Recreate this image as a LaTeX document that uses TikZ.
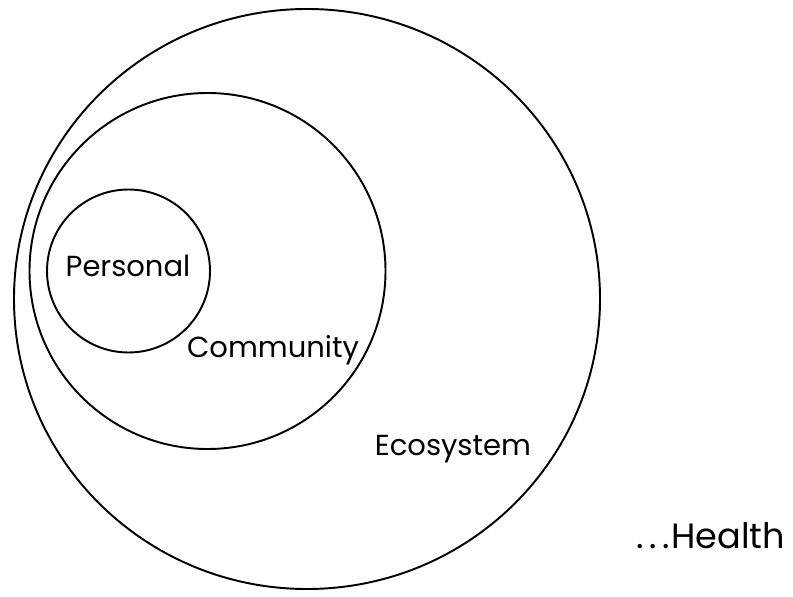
\documentclass[tikz,border=0pt]{standalone}
\usepackage{fontspec}
\setmainfont{Poppins}
\usepackage{tikz}

\begin{document}
\begin{tikzpicture}
		\useasboundingbox (0,0) rectangle (15.86,11.92);
		\tikzset{lbl/.style={font=\fontsize{16.5}{19}\selectfont,inner sep=0pt,anchor=base}}
		
		\draw[line width=1.1pt] (6.14,5.94) ellipse (5.86 and 5.8);
		\draw[line width=1.1pt] (4.15,6.5) circle(3.56);
		\draw[line width=1.1pt] (2.57,6.5) circle(1.63);
		
		\node(personal) at (2.56,6.4)[lbl]{Personal};
		\node(community) at (5.46,4.78)[lbl]{Community};
		\node(ecosystem) at (9.06,2.82)[lbl]{Ecosystem};
		\node(health) at (14.22,0.96)[lbl,font=\fontsize{20}{24}\selectfont]{.\kern3pt.\kern3pt.\kern1pt Health};
	\end{tikzpicture}
\end{document}
